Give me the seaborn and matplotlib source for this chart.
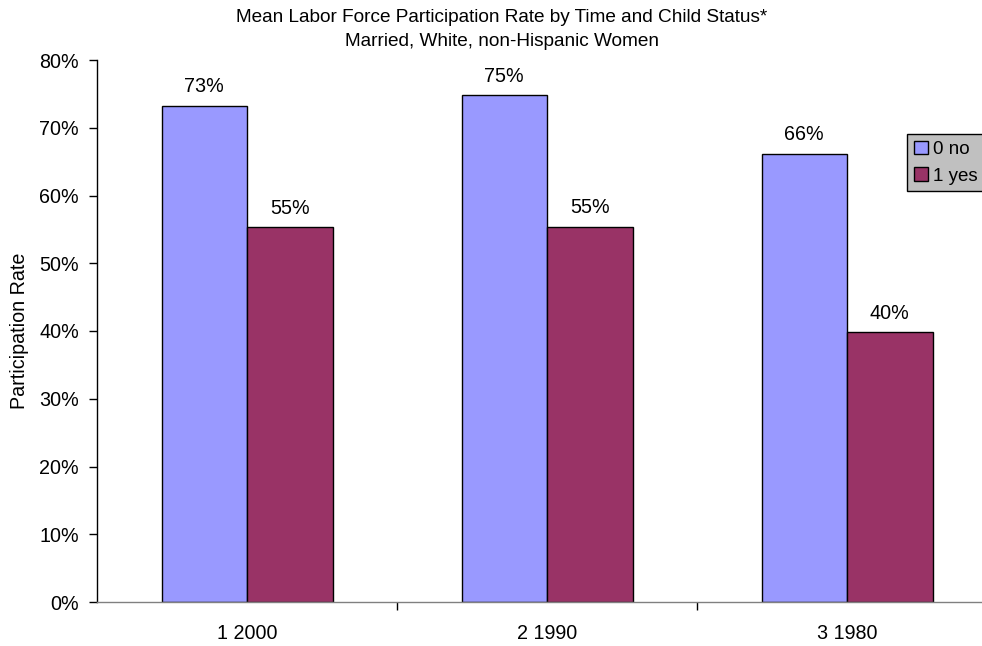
import matplotlib
matplotlib.use("Agg")
import matplotlib.pyplot as plt
import seaborn as sns
import pandas as pd
from matplotlib.ticker import PercentFormatter
from matplotlib.patches import Patch

# Mean participation rates by period and child status
periods = ["1 2000", "2 1990", "3 1980"]
rate_no_child = [0.732, 0.748, 0.661]
rate_child = [0.553, 0.554, 0.398]
status_labels = ["0 no", "1 yes"]

df = pd.DataFrame({
    "period": periods * 2,
    "status": [status_labels[0]] * 3 + [status_labels[1]] * 3,
    "rate": rate_no_child + rate_child,
})

sns.set_theme(style="white")
plt.rcParams["font.family"] = ["Liberation Sans", "DejaVu Sans"]
plt.rcParams["text.color"] = "black"
plt.rcParams["axes.labelcolor"] = "black"
plt.rcParams["xtick.color"] = "black"
plt.rcParams["ytick.color"] = "black"
FS = 14.2

W, H = 982, 646
fig = plt.figure(figsize=(W / 100, H / 100), dpi=100)
ax = fig.add_axes([97 / W, 44 / H, 900 / W, 542 / H])

sns.barplot(data=df, x="period", y="rate", hue="status", order=periods,
            hue_order=status_labels, palette=["#9999FF", "#993366"],
            width=0.57, edgecolor="black", linewidth=1.0, saturation=1,
            ax=ax, legend=False)

for cont in ax.containers:
    ax.bar_label(cont, labels=[f"{v:.0%}" for v in cont.datavalues],
                 padding=7, fontsize=FS, color="black")

ax.set_xlim(-0.5, 2.5)
ax.set_ylim(0, 0.8)
ax.set_yticks([i / 10 for i in range(9)])
ax.yaxis.set_major_formatter(PercentFormatter(1.0, decimals=0))
ax.set_xticks([0.5, 1.5], minor=True)
ax.set_xticks([0, 1, 2])
ax.set_xticklabels(periods)
ax.tick_params(axis="x", which="major", length=0, pad=16, labelsize=FS,
               labelcolor="black")
ax.tick_params(axis="x", which="minor", length=6, width=1, color="black",
               direction="out", bottom=True)
ax.tick_params(axis="y", length=6, width=1, color="black", direction="out",
               left=True, labelsize=FS, pad=7, labelcolor="black")

for side in ["top", "right"]:
    ax.spines[side].set_visible(False)
ax.spines["left"].set_color("black")
ax.spines["left"].set_linewidth(1.0)
ax.spines["bottom"].set_color("#808080")
ax.spines["bottom"].set_linewidth(1.0)
ax.set_xlabel("")
ax.set_ylabel("Participation Rate", fontsize=FS, color="black")
ax.yaxis.set_label_coords(-68 / 900, 0.5)

fig.text(502 / W, 1 - 18 / H,
         "Mean Labor Force Participation Rate by Time and Child Status*",
         ha="center", va="center", fontsize=13.7, color="black")
fig.text(502 / W, 1 - 41 / H, "Married, White, non-Hispanic Women",
         ha="center", va="center", fontsize=13.7, color="black")

handles = [Patch(facecolor="#9999FF", edgecolor="black", label=status_labels[0]),
           Patch(facecolor="#993366", edgecolor="black", label=status_labels[1])]
leg = fig.legend(handles=handles, loc="upper left",
                 bbox_to_anchor=(907 / W, 1 - 134 / H), fontsize=13.5,
                 frameon=True, fancybox=False, borderpad=0.35,
                 handlelength=0.75, handleheight=0.75, handletextpad=0.27,
                 labelspacing=0.5, borderaxespad=0)
leg.get_frame().set_facecolor("#C0C0C0")
leg.get_frame().set_edgecolor("black")
leg.get_frame().set_linewidth(1.0)
leg.get_frame().set_alpha(1)
for t in leg.get_texts():
    t.set_color("black")

fig.savefig("out.png", dpi=100)
